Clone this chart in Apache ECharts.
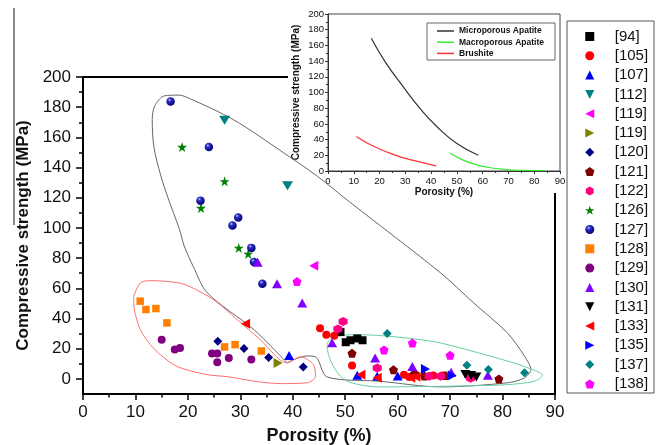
<!DOCTYPE html>
<html><head><meta charset="utf-8">
<script src="https://cdn.jsdelivr.net/npm/echarts@6/dist/echarts.min.js"></script>
<style>html,body{margin:0;padding:0;background:#fff}#c{width:660px;height:445px}</style>
</head><body><div id="c"></div>
<script>
const FONT = '"Liberation Sans", Arial, Helvetica, sans-serif';

// main y-axis tick values
const yMainTicks = [0,20,40,60,80,100,120,140,160,180,200];
const yMainMinor = [10,30,50,70,90,110,130,150,170,190];

// scatter data [porosity %, strength MPa]
const s94   = [[49.1,31],[50.1,24.3],[51.0,25.6],[52.3,26.8],[53.3,25.6]];
const s105  = [[45.2,33.5],[46.4,29.3],[47.9,28.6],[51.3,8.8],[61.2,2.8],[62.2,1.2],[63.5,2.4],[66.8,2.2],[68.6,2.2]];
const s107  = [[39.3,15.5],[52.3,2.5],[56.1,1.8],[60,2]];
const s112  = [[27,171.3],[39,128]];
const s119a = [[44,75]];
const s119b = [[37.2,10.6]];
const s120  = [[25.7,25],[30.7,20.1],[35.4,14.1],[42,7.9]];
const s121  = [[51.3,17],[59.2,6],[63.2,3.5],[65.1,2],[69.1,2.2],[79.3,0]];
const s122  = [[48.6,33.1],[49.6,38.1],[56.1,7.3],[66,1.7],[68.2,1.7],[73.9,0.5]];
const s126  = [[18.9,153.6],[27,130.9],[22.5,113.2],[29.7,86.8],[31.5,82.8]];
const s127  = [[16.7,183.8],[24,153.6],[22.4,118.1],[29.6,107],[28.5,101.7],[32.1,86.8],[32.6,77.5],[34.2,63.1]];
const s128  = [[10.9,51.5],[12,46],[13.9,46.6],[16,37.1],[27,21.2],[29,22.7],[34,18.5]];
const s129  = [[15,26],[17.5,19.4],[18.5,20.5],[24.6,16.8],[25.6,16.8],[25.6,11],[27.8,13.9],[32.1,12.8]];
const s130  = [[33.3,77.3],[37,63.1],[41.8,50.3],[47.5,24],[55.7,13.9],[62.8,8.3],[70.2,4.4],[77.2,2.5]];
const s131  = [[72.9,3],[74,2.3],[75,1.3]];
const s133  = [[31,36.6],[53,2.8],[56.1,0.8],[62.5,0.8],[63.5,1.4]];
const s135  = [[65.3,6.5],[70.4,2.2]];
const s137  = [[58,30],[73.2,9],[77.3,6.2],[84.2,4]];
const s138  = [[40.8,64.5],[57.4,19.2],[62.8,23.8],[70,15.6]];

// hand-drawn envelopes in the main plot
const grayOutline = [[38.9,10.6],[32.6,32.6],[23.7,57],[21.0,74.6],[19.3,88],[18.4,99],[16.2,120],[14.8,135],[13.5,154],[13.2,171.7],[13.7,181],[15.5,187.5],[18.3,188],[20.5,185.5],[28.7,171.7],[38.3,149.7],[44.7,134.2],[51.0,116.8],[68.2,70.2],[74.5,50.3],[80.9,30.5],[84.2,15],[85.4,6.2],[84.2,0.7],[80.9,-2.6],[68.2,-5.3],[56.7,-1.6],[46.6,1.2],[44.4,14.5],[42.7,15.2],[40.2,12.8],[38.9,10.6]];
const redOutline = [[9.66,54.7],[10.94,63.6],[12.84,65.1],[17.94,63.8],[20.42,61.1],[24.87,52.5],[29.39,39.3],[33.8,26.0],[38.93,10.6],[41.47,14.6],[43.95,9.5],[44.33,1.7],[42.75,-2.6],[37.65,-3.1],[33.21,-1.8],[27.48,1.5],[23.66,2.8],[17.94,8.2],[14.75,16.1],[12.84,22.7],[10.94,32.6],[9.79,45.9],[9.66,54.7]];
const greenOutline = [[46.56,23.8],[47.82,27.8],[51.97,29.3],[56.74,28.7],[63.09,26.5],[68.19,23.8],[77.73,15.0],[84.08,8.3],[87.6,2.2],[86.0,-1.6],[80.9,-3.8],[75.8,-4.4],[68.2,-4.9],[56.7,-5.3],[50.4,-1.6],[48.1,6.2],[46.6,19.4],[46.56,23.8]];

// inset curves
const microporous = [[16.8,169],[22,140],[29,108],[35.6,80],[42.1,57],[50,35],[58.3,20]];
const macroporous = [[47.3,23],[52,14.5],[57,8.5],[62,4.8],[68,2.2],[75,0.8],[84.2,0.1]];
const brushite    = [[11,44],[15,36],[20,28],[25,21.5],[30,16],[35,12],[42,6.5]];

const SQUARE = 'path://M0,0H10V10H0Z';
const TRI_UP = 'path://M5,0L10,10L0,10Z';
const TRI_DN = 'path://M0,0L10,0L5,10Z';
const TRI_LT = 'path://M0,5L10,0L10,10Z';
const TRI_RT = 'path://M0,0L10,5L0,10Z';
const DIAM = 'path://M5,0L10,5L5,10L0,5Z';
const PENT = 'path://M50,0L97.6,34.5L79.4,90.5L20.6,90.5L2.4,34.5Z';
const HEX = 'path://M50,0L93.3,25L93.3,75L50,100L6.7,75L6.7,25Z';
const STAR = 'path://M50,0L61.8,35.4L99,35.4L69,57.3L80.9,92.7L50,70.8L19.1,92.7L31,57.3L1,35.4L38.2,35.4Z';

const sphere = new echarts.graphic.RadialGradient(0.38, 0.32, 0.7, [
  {offset:0, color:'#e0e0ff'},{offset:0.25, color:'#3030d0'},{offset:1, color:'#00006a'}]);

const defs = [
  {name:'[94]',  data:s94,  symbol:SQUARE, size:8,  color:'#000000'},
  {name:'[105]', data:s105, symbol:'circle', size:8, color:'#ff0000'},
  {name:'[107]', data:s107, symbol:TRI_UP, size:[10,9], color:'#0000ff'},
  {name:'[112]', data:s112, symbol:TRI_DN, size:[11,9], color:'#008080'},
  {name:'[119]', data:s119a, symbol:TRI_LT, size:[9,10], color:'#ff00ff'},
  {name:'[119] ', data:s119b, symbol:TRI_RT, size:[9,10], color:'#808000'},
  {name:'[120]', data:s120, symbol:DIAM, size:9, color:'#000080'},
  {name:'[121]', data:s121, symbol:PENT, size:9, color:'#800000'},
  {name:'[122]', data:s122, symbol:HEX, size:9, color:'#ff0080'},
  {name:'[126]', data:s126, symbol:STAR, size:10, color:'#008000'},
  {name:'[127]', data:s127, symbol:'circle', size:8.5, color:sphere},
  {name:'[128]', data:s128, symbol:SQUARE, size:7.5, color:'#ff8000'},
  {name:'[129]', data:s129, symbol:'circle', size:8, color:'#800080'},
  {name:'[130]', data:s130, symbol:TRI_UP, size:[10,9], color:'#8000ff'},
  {name:'[131]', data:s131, symbol:TRI_DN, size:[10,9], color:'#000000'},
  {name:'[133]', data:s133, symbol:TRI_LT, size:[9,10], color:'#ff0000'},
  {name:'[135]', data:s135, symbol:TRI_RT, size:[9,10], color:'#0000ff'},
  {name:'[137]', data:s137, symbol:DIAM, size:9, color:'#008080'},
  {name:'[138]', data:s138, symbol:PENT, size:9, color:'#ff00ff'}
];

const chart = echarts.init(document.getElementById('c'), null, {renderer:'canvas'});

const series = [];
function outline(data, color){
  return {type:'line', xAxisIndex:0, yAxisIndex:0, data, smooth:0.3, symbol:'none', silent:true, z:1,
    lineStyle:{color, width:1}};
}
series.push(outline(grayOutline,'#666666'));
series.push(outline(redOutline,'#ff7070'));
series.push(outline(greenOutline,'#66d0a0'));
defs.forEach(d => series.push({
  type:'scatter', name:d.name, xAxisIndex:0, yAxisIndex:0, data:d.data, symbol:d.symbol, symbolSize:d.size,
  itemStyle:{color:d.color, opacity:1}, z:3
}));
function curve(name, data, color){
  return {type:'line', name, xAxisIndex:1, yAxisIndex:2, data, smooth:true, symbol:'none', showSymbol:false, silent:true,
    lineStyle:{color, width:1.2}, itemStyle:{color}};
}
series.push(curve('Microporous Apatite', microporous, '#333333'));
series.push(curve('Macroporous Apatite', macroporous, '#33ee33'));
series.push(curve('Brushite', brushite, '#ff3333'));

const black = '#000';
const option = {
  animation:false,
  backgroundColor:'#fff',
  textStyle:{fontFamily:FONT},
  grid:[
    {left:83, right:105, top:77, bottom:51, show:false, containLabel:false, outerBoundsMode:'none'},
    {left:328, right:100, top:14, bottom:274, show:true, borderColor:'#444', borderWidth:1, backgroundColor:'transparent', containLabel:false, outerBoundsMode:'none'}
  ],
  xAxis:[
    {type:'value', gridIndex:0, min:0, max:90, interval:10,
     axisLine:{show:true, onZero:false, lineStyle:{color:black, width:2}},
     axisTick:{show:true, length:6, lineStyle:{color:black, width:1.5}},
     minorTick:{show:true, splitNumber:2, length:3.5, lineStyle:{color:black, width:1.5}},
     axisLabel:{fontSize:17, color:'#111', margin:10, fontFamily:FONT},
     splitLine:{show:false},
     name:'Porosity (%)', nameLocation:'middle', nameGap:33,
     nameTextStyle:{fontSize:18, fontWeight:'bold', color:'#111', fontFamily:FONT}},
    {type:'value', gridIndex:1, min:0, max:90, interval:10,
     axisLine:{show:true, onZero:false, lineStyle:{color:'#333', width:1}},
     axisTick:{show:true, length:3, lineStyle:{color:'#333', width:1}},
     minorTick:{show:true, splitNumber:2, length:2, lineStyle:{color:'#333', width:1}},
     axisLabel:{fontSize:9.5, color:'#111', margin:5, fontFamily:FONT},
     splitLine:{show:false},
     name:'Porosity (%)', nameLocation:'middle', nameGap:16,
     nameTextStyle:{fontSize:10, fontWeight:'bold', color:'#111', fontFamily:FONT}}
  ],
  yAxis:[
    {type:'value', gridIndex:0, min:-10, max:200,
     axisLine:{show:true, onZero:false, lineStyle:{color:black, width:2}},
     axisTick:{show:true, length:7, customValues:yMainTicks, lineStyle:{color:black, width:1.5}},
     axisLabel:{fontSize:17, color:'#111', margin:12, customValues:yMainTicks, fontFamily:FONT},
     splitLine:{show:false},
     name:'Compressive strength (MPa)', nameLocation:'middle', nameGap:51,
     nameTextStyle:{fontSize:17, fontWeight:'bold', color:'#111', fontFamily:FONT}},
    {type:'value', gridIndex:0, min:-10, max:200, position:'left',
     axisLine:{show:false},
     axisTick:{show:true, length:4, customValues:yMainMinor, lineStyle:{color:black, width:1.5}},
     axisLabel:{show:false},
     splitLine:{show:false}},
    {type:'value', gridIndex:1, min:0, max:200, interval:20,
     axisLine:{show:true, onZero:false, lineStyle:{color:'#333', width:1}},
     axisTick:{show:true, length:3, lineStyle:{color:'#333', width:1}},
     minorTick:{show:true, splitNumber:2, length:2, lineStyle:{color:'#333', width:1}},
     axisLabel:{fontSize:9.5, color:'#111', margin:4, fontFamily:FONT},
     splitLine:{show:false},
     name:'Compressive strength (MPa)', nameLocation:'middle', nameGap:27,
     nameTextStyle:{fontSize:10, fontWeight:'bold', color:'#111', fontFamily:FONT}}
  ],
  legend:[
    {data:defs.map(d=>d.name), orient:'vertical', left:585, top:29, padding:0,
     itemWidth:40, itemHeight:9, itemGap:4.3, selectedMode:false, symbolKeepAspect:true,
     formatter:n=>n.trim(),
     textStyle:{fontSize:15, lineHeight:15, color:'#111', fontFamily:FONT}},
    {data:[{name:'Microporous Apatite',icon:'rect'},{name:'Macroporous Apatite',icon:'rect'},{name:'Brushite',icon:'rect'}],
     orient:'vertical', left:437, top:26, padding:0, itemWidth:17, itemHeight:1.5, itemGap:1.2, selectedMode:false,
     textStyle:{fontSize:8.5, lineHeight:10, fontWeight:'bold', color:'#111', fontFamily:FONT}}
  ],
  graphic:[
    {type:'rect', shape:{x:567, y:21, width:87, height:372}, style:{fill:'none', stroke:'#555', lineWidth:1}, silent:true},
    {type:'rect', shape:{x:427, y:23, width:128, height:37}, style:{fill:'none', stroke:'#666', lineWidth:1}, silent:true},
    {type:'line', shape:{x1:83, y1:77, x2:288, y2:77}, style:{stroke:'#000', lineWidth:2}, silent:true},
    {type:'line', shape:{x1:555, y1:193, x2:555, y2:395}, style:{stroke:'#000', lineWidth:2}, silent:true},
    {type:'line', shape:{x1:14, y1:8, x2:14, y2:225}, style:{stroke:'#888', lineWidth:2}, silent:true}
  ],
  series
};
chart.setOption(option);
</script>
</body></html>
